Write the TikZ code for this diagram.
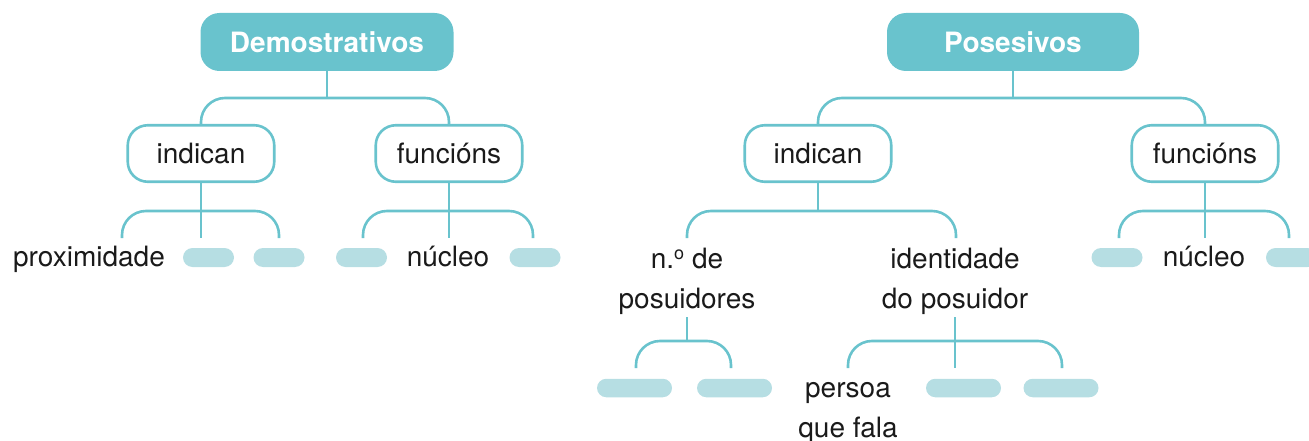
\documentclass[tikz,border=0pt]{standalone}
\usepackage{fontspec}
\setmainfont{TeX Gyre Heros}
\definecolor{tealc}{HTML}{69C3CD}
\definecolor{pillc}{HTML}{B6DEE3}
\definecolor{txtc}{HTML}{1A1A1A}
\newcommand{\mfont}{\fontsize{28}{34}\selectfont}
\newcommand{\ordo}{\raisebox{9pt}{\fontsize{18}{18}\selectfont o}}
\begin{document}
\begin{tikzpicture}[x=1pt,y=-1pt,
  conn/.style={draw=tealc, line width=2.6pt, rounded corners=24pt},
  head/.style={fill=tealc, rounded corners=19pt, minimum height=58pt, text=white,
    font=\mfont\bfseries, inner sep=0pt},
  subbox/.style={draw=tealc, line width=2.6pt, fill=white, rounded corners=20pt,
    minimum height=56.5pt, minimum width=146.5pt, font=\mfont, text=txtc, inner sep=0pt},
  lbl/.style={font=\mfont, text=txtc, inner sep=0pt, anchor=base},
  pill/.style={fill=pillc, rounded corners=9.5pt, minimum width=51pt, minimum height=19pt, inner sep=0pt},
  wpill/.style={pill, minimum width=75pt, minimum height=18.5pt, rounded corners=9.25pt}
]
\useasboundingbox (0,0) rectangle (1309,441);

% ---------- Demostrativos ----------
\node[head, minimum width=253pt] (demo) at (327,42) {Demostrativos};
\node[subbox] (indL) at (201,153.5) {indican};
\node[subbox] (funL) at (449,153.5) {funcións};

\node[lbl] (prox) at (89,266) {proximidade};
\node[pill] (pL1) at (208.5,257.5) {};
\node[pill] (pL2) at (279,257.5) {};
\node[pill] (pL3) at (361.5,257.5) {};
\node[lbl] (nucL) at (448,266) {núcleo};
\node[pill] (pL4) at (535,257.5) {};

\coordinate (dbar) at (327,98);
\draw[conn] (demo.south) -- (dbar);
\draw[conn] (indL.north) -- (indL.north |- dbar) -- (funL.north |- dbar) -- (funL.north);

\coordinate (iLb) at (201,211);
\coordinate (iLl) at (122,238);
\coordinate (iLm) at (201,238);
\coordinate (iLr) at (279,238);
\draw[conn] (indL.south) -- (iLm);
\draw[conn] (iLl) -- (iLl |- iLb) -- (iLr |- iLb) -- (iLr);

\coordinate (fLb) at (449,211);
\coordinate (fLl) at (363,238);
\coordinate (fLm) at (449,238);
\coordinate (fLr) at (533,238);
\draw[conn] (funL.south) -- (fLm);
\draw[conn] (fLl) -- (fLl |- fLb) -- (fLr |- fLb) -- (fLr);

% ---------- Posesivos ----------
\node[head, minimum width=252pt] (pos) at (1013,42) {Posesivos};
\node[subbox] (indR) at (818,153.5) {indican};
\node[subbox] (funR) at (1205,153.5) {funcións};

\node[lbl] (nde) at (687,268) {n.\ordo{} de};
\node[lbl] (npos) at (687,308) {posuidores};
\node[lbl] (iden) at (955,268) {identidade};
\node[lbl] (dpos) at (955,308) {do posuidor};

\node[pill] (pR1) at (1117,257.5) {};
\node[lbl] (nucR) at (1204,266) {núcleo};
\node[pill] (pR2) at (1291.5,257.5) {};

\node[wpill] (w1) at (634.5,388) {};
\node[wpill] (w2) at (734.5,388) {};
\node[lbl] (pers) at (848,397) {persoa};
\node[lbl] (qfal) at (848,437) {que fala};
\node[wpill] (w3) at (963.5,388) {};
\node[wpill] (w4) at (1061,388) {};

\coordinate (pbar) at (1013,98);
\draw[conn] (pos.south) -- (pbar);
\draw[conn] (indR.north) -- (indR.north |- pbar) -- (funR.north |- pbar) -- (funR.north);

\coordinate (iRb) at (818,211);
\coordinate (iRl) at (687,238);
\coordinate (iRr) at (956,238);
\draw[conn] (indR.south) -- (iRb);
\draw[conn] (iRl) -- (iRl |- iRb) -- (iRr |- iRb) -- (iRr);

\coordinate (nb) at (687,341);
\coordinate (nl) at (636,368);
\coordinate (nr) at (731,368);
\draw[conn] ([yshift=-3pt]npos.south) -- (nb);
\draw[conn] (nl) -- (nl |- nb) -- (nr |- nb) -- (nr);

\coordinate (db) at (955,341);
\coordinate (dl) at (848,368);
\coordinate (dm) at (955,368);
\coordinate (dr) at (1062,368);
\draw[conn] ([yshift=-3pt]dpos.south) -- (dm);
\draw[conn] (dl) -- (dl |- db) -- (dr |- db) -- (dr);

\coordinate (fRb) at (1205,211);
\coordinate (fRl) at (1119,238);
\coordinate (fRm) at (1205,238);
\coordinate (fRr) at (1289,238);
\draw[conn] (funR.south) -- (fRm);
\draw[conn] (fRl) -- (fRl |- fRb) -- (fRr |- fRb) -- (fRr);
\end{tikzpicture}
\end{document}
